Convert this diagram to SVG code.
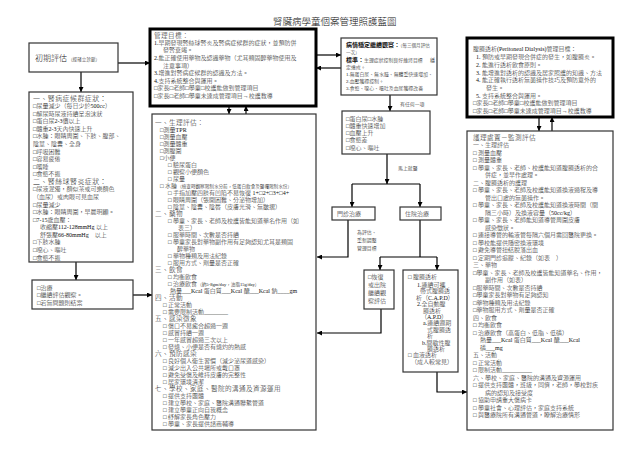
<svg xmlns="http://www.w3.org/2000/svg" width="640" height="452" viewBox="0 0 640 452">
<style>
text{font-family:'Liberation Serif','Noto Sans CJK TC',serif;fill:#111;font-size:6px;font-weight:300}
.h{font-size:6.6px;letter-spacing:0.4px}
.hl{font-size:7px;letter-spacing:0.4px}
.n{font-size:4.6px}
.sm{font-size:4.9px}
.b{font-weight:bold}
.box{fill:#fff;stroke:#333;stroke-width:1.2}
.thick{fill:#fff;stroke:#000;stroke-width:3}
.c{fill:none;stroke:#000;stroke-width:1.2}
</style>
<defs>
<marker id="ar" viewBox="0 0 6 6" refX="6" refY="3" markerWidth="5" markerHeight="5" orient="auto" markerUnits="userSpaceOnUse"><path d="M0,0L6,3L0,6z" fill="#000"/></marker>
</defs>
<rect width="640" height="452" fill="#fff"/>
<text x="273" y="24.5" style="font-size:9.5px">腎臟病學童個案管理照護藍圖</text>

<g id="connectors">
<path class="c" d="M118,63H150" marker-end="url(#ar)"/>
<path class="c" d="M81,72V92" marker-end="url(#ar)"/>
<path class="c" d="M316,55H341" marker-end="url(#ar)"/>
<path class="c" d="M341,68H316" marker-end="url(#ar)"/>
<path class="c" d="M229,106V114" marker-end="url(#ar)"/>
<path class="c" d="M246,114V106" marker-end="url(#ar)"/>
<path class="c" d="M76,262V280" marker-end="url(#ar)"/>
<path class="c" d="M133,295H152" marker-end="url(#ar)"/>
<path class="c" d="M390,95V111" marker-end="url(#ar)"/>
<path class="c" d="M387,154V184" marker-end="url(#ar)"/>
<path class="c" d="M352,184H420"/>
<path class="c" d="M352,184V207" marker-end="url(#ar)"/>
<path class="c" d="M420,184V207" marker-end="url(#ar)"/>
<path class="c" d="M348,220V257H317" marker-end="url(#ar)"/>
<path class="c" d="M420,220V257"/>
<path class="c" d="M380,257H437"/>
<path class="c" d="M380,257V270" marker-end="url(#ar)"/>
<path class="c" d="M437,257V270" marker-end="url(#ar)"/>
<path class="c" d="M381,309V333H317" marker-end="url(#ar)"/>
<path class="c" d="M437,372V392H467" marker-end="url(#ar)"/>
<path class="c" d="M539,117V131" marker-end="url(#ar)"/>
<path class="c" d="M552,131V117" marker-end="url(#ar)"/>
<text x="400" y="106" class="sm">有任何一項</text>
<text x="398" y="170" class="sm">馬上就醫</text>
<text x="357" y="234" class="sm">為評估、</text>
<text x="357" y="242" class="sm">重新調整</text>
<text x="357" y="250" class="sm">管理目標</text>
</g>

<g id="initial">
<rect class="box" x="29" y="43" width="89" height="29"/>
<text x="35" y="61" style="font-size:8px">初期評估<tspan class="n" dx="1">（經確立診斷）</tspan></text>
</g>

<g id="goal">
<rect class="thick" x="150" y="29" width="166" height="77"/>
<text x="154" y="37.5" class="h">管理目標：</text>
<text x="154" y="44.8">1.早期發現腎絲球腎炎及腎病症候群的症狀，並預防併</text>
<text x="163" y="52.4">發腎衰竭。</text>
<text x="154" y="60">2.能正確使用藥物及認識藥物（尤其類固醇藥物使用及</text>
<text x="163" y="67.6">注意事項）</text>
<text x="154" y="75.2">3.增進對腎病症候群的認識及方法。</text>
<text x="154" y="82.8">4.支持系統整合與運用。</text>
<text x="154" y="90.4">□家長□老師□學童□校護能做到管理項目</text>
<text x="154" y="98">□家長□老師□學童未達成管理項目→校護教導</text>
</g>

<g id="stable">
<rect class="box" x="341" y="38" width="96" height="57"/>
<text x="346" y="47.2"><tspan class="b">病情穩定繼續觀察：</tspan><tspan class="n">（每三個月評估</tspan></text>
<text x="346" y="54.4" class="n">一次）</text>
<text x="346" y="61.6"><tspan class="b">標準：</tspan><tspan class="sm">生理症狀控制良好維持目標</tspan></text>
<text x="430" y="61.6" class="sm">穩</text>
<text x="346" y="68.8" class="sm">定達成。</text>
<text x="346" y="76" class="sm">1.無蛋白尿、無水腫、無體重快速增加、</text>
<text x="346" y="83.2" class="sm">2.血壓獲得控制。</text>
<text x="346" y="90.4" class="sm">3.食慾、噁心、嘔吐及血尿獲得改善</text>
</g>

<g id="symptoms">
<rect class="box" x="342" y="111" width="88" height="43"/>
<text x="346" y="120.5">□蛋白尿□水腫</text>
<text x="346" y="127.8">□體重快速增加</text>
<text x="346" y="135.1">□血壓上升</text>
<text x="346" y="142.4">□食慾差</text>
<text x="346" y="149.7">□噁心、嘔吐</text>
</g>

<g id="outpatient">
<rect class="box" x="332" y="207" width="43" height="13"/>
<text x="337" y="215.8">門診治療</text>
</g>

<g id="inpatient">
<rect class="box" x="400" y="207" width="41" height="13"/>
<text x="405" y="215.8">住院治療</text>
</g>

<g id="recover">
<rect class="box" x="364" y="270" width="30" height="39"/>
<text x="368" y="279">□恢復</text>
<text x="368" y="287">或出院</text>
<text x="368" y="295">繼續觀</text>
<text x="368" y="303">察評估</text>
</g>

<g id="dialysis">
<rect class="box" x="403" y="270" width="55" height="102"/>
<text x="408" y="279">□ 腹膜透析</text>
<text x="417" y="287">1.連續可攜</text>
<text x="420" y="293.4">帶式腹膜透</text>
<text x="416" y="299.8">析（C.A.P.D）</text>
<text x="417" y="306.2">2.全自動腹</text>
<text x="423" y="312.6">膜透析</text>
<text x="421" y="319">（A.P.D）</text>
<text x="423" y="325.4">a.連續週期</text>
<text x="427" y="331.8">式腹膜透</text>
<text x="427" y="338.2">析</text>
<text x="422" y="344.6">b.間歇性腹</text>
<text x="427" y="351">膜透析</text>
<text x="408" y="357.4">□ 血液透析</text>
<text x="411" y="363.8">（成人較常見）</text>
</g>

<g id="symptom-list">
<rect class="box" x="29" y="92" width="104" height="170"/>
<text x="33" y="100.5" class="hl">一、腎病症候群症狀：</text>
<text x="33" y="108.1">□尿量減少（每日少於500cc）</text>
<text x="33" y="115.6">□解尿時尿液持續呈泡沫狀</text>
<text x="33" y="123.2">□蛋白尿2-3價以上</text>
<text x="33" y="130.8">□體重2-3天內快速上升</text>
<text x="33" y="138.3">□水腫：眼睛周圍、下肢、腹部、</text>
<text x="33" y="145.9">陰莖、陰囊、全身</text>
<text x="33" y="153.5">□呼吸困難</text>
<text x="33" y="161.1">□容易疲倦</text>
<text x="33" y="168.6">□嗜睡</text>
<text x="33" y="176.2">□食慾不振</text>
<text x="33" y="183.8" class="hl">二、腎絲球腎炎症狀：</text>
<text x="33" y="191.3">□尿液混濁，顏似茶或可樂顏色</text>
<text x="33" y="198.9">（血尿）或肉眼可見血尿</text>
<text x="33" y="206.5">□尿量減少</text>
<text x="33" y="214.1">□水腫：眼睛周圍，早晨明顯。</text>
<text x="33" y="221.6">□7-15歲血壓：</text>
<text x="40" y="229.2">收縮壓112-128mmHg 以上</text>
<text x="40" y="236.8">舒張壓66-80mmHg　以上</text>
<text x="33" y="244.3">□下肢水腫</text>
<text x="33" y="251.9">□噁心、嘔吐</text>
<text x="33" y="259.5">□食慾不振</text>
</g>

<g id="treatment">
<rect class="box" x="32" y="280" width="101" height="29"/>
<text x="37" y="289.5">□治療</text>
<text x="37" y="297">□繼續評估觀察。</text>
<text x="37" y="304.5">□若無問題則結案</text>
</g>

<g id="care">
<rect class="box" x="152" y="114" width="164" height="316"/>
<text x="155" y="124.5" class="h">一、生理評估：</text>
<text x="160" y="131.5">□測量TPR</text>
<text x="160" y="138.5">□測量血壓</text>
<text x="160" y="145.5">□測量體重</text>
<text x="160" y="152.5">□測腹圍</text>
<text x="160" y="159.5">□小便</text>
<text x="168" y="166.5">□ 驗尿蛋白</text>
<text x="168" y="173.5">□ 觀察小便顏色</text>
<text x="168" y="180.5">□ 尿量</text>
<text x="160" y="187.5">□ 水腫<tspan class="n">（檢查時觀察限制水分前，低蛋白飲食及醫囑限制水份）</tspan></text>
<text x="168" y="194.5">□ 手指加壓四肢有凹陷不易恢復 1+□2+□3+□4+</text>
<text x="168" y="201.5">□ 眼睛周圍（張開困難、分泌物增加）</text>
<text x="168" y="208.5">□ 陰莖、陰囊、陰唇（皮膚光滑、無皺摺）</text>
<text x="155" y="215.5" class="h">二、藥物</text>
<text x="168" y="222.5">□ 學童、家長、老師及校護皆能知道藥名作用（如</text>
<text x="178" y="229.5">表三）</text>
<text x="168" y="236.5">□ 服藥時間、次數是否持續</text>
<text x="168" y="243.5">□ 學童家長對藥物副作用有足夠認知尤其是類固</text>
<text x="177" y="250.5">醇藥物</text>
<text x="168" y="257.5">□ 藥物種類及用法紀錄</text>
<text x="168" y="264.5">□ 服用方式、劑量是否正確</text>
<text x="155" y="271.5" class="h">三、飲食</text>
<text x="168" y="278.5">□ 均衡飲食</text>
<text x="168" y="285.5">□ 治療飲食<tspan class="n">（鈉5-8gm/day，油脂15g/day）</tspan></text>
<text x="170" y="292.5">熱量___Kcal 蛋白質___Kcal 醣___Kcal 鈉____gm</text>
<text x="155" y="299.5" class="h">四、活動</text>
<text x="163" y="306.5">□ 正常活動</text>
<text x="163" y="313.5">□ 需要限制活動________</text>
<text x="155" y="320.5" class="h">五、感染徵象</text>
<text x="163" y="327.5">□ 傷口不易癒合超過一週</text>
<text x="163" y="334.5">□ 感冒持續一週</text>
<text x="163" y="341.5">□ 一年感冒超過三次以上</text>
<text x="163" y="348.5">□ 發燒、小便是否有燒灼的熱感</text>
<text x="155" y="355.5" class="h">六、預防感染</text>
<text x="163" y="362.5">□ 良好個人衛生習慣（減少泌尿道感染）</text>
<text x="163" y="369.5">□ 減少出入公共場所或戴口罩</text>
<text x="163" y="376.5">□ 避免受傷及維持皮膚的完整性</text>
<text x="163" y="383.5">□ 居家環境清潔</text>
<text x="155" y="390.5" class="h">七、學校、家庭、醫院的溝通及資源運用</text>
<text x="163" y="397.5">□ 提供支持團體</text>
<text x="163" y="404.5">□ 建立學校、家庭、醫院溝通聯繫管道</text>
<text x="163" y="411.5">□ 建立學童正向自我概念</text>
<text x="163" y="418.5">□ 紓解家長角色壓力</text>
<text x="163" y="425.5">□ 學童、家長提供諮商輔導</text>
</g>

<g id="pd-goal">
<rect class="thick" x="467" y="38" width="146" height="79"/>
<text x="473" y="50.5">腹膜透析(Peritoneal Dialysis)管理目標：</text>
<text x="476" y="59.2">1. 預防或早期發現合併症的發生，如腹膜炎。</text>
<text x="476" y="66.9">2. 能進行透析飲食原則。</text>
<text x="476" y="74.6">3. 能增進對透析的認識及居家照護的知識、方法</text>
<text x="476" y="82.3">4. 能正確執行透析無菌操作技巧及預防意外的</text>
<text x="486" y="90">發生。</text>
<text x="476" y="97.7">5. 支持系統整合與運用。</text>
<text x="473" y="105.4">□家長□老師□學童□校護能做到管理項目</text>
<text x="473" y="113.1">□家長□老師□學童未達成管理項目→校護教導</text>
</g>

<g id="pd-care">
<rect class="box" x="467" y="131" width="146" height="299"/>
<text x="473" y="139.5" class="h">護理處置－監測評估</text>
<text x="473" y="147">一、生理評估</text>
<text x="473" y="154.5">□ 測量血壓</text>
<text x="473" y="162">□ 測量體重</text>
<text x="473" y="169.5">□ 學童、家長、老師、校護能知道腹膜透析的合</text>
<text x="485" y="177">併症，並早作處理。</text>
<text x="473" y="184.5">二、腹膜透析的護理</text>
<text x="473" y="192">□ 學童、家長、老師及校護能知道換液過程及導</text>
<text x="485" y="199.5">管出口處的無菌操作。</text>
<text x="473" y="207">□ 學童、家長、老師及校護能知道換液時間（間</text>
<text x="485" y="214.5">隔三小時）及換液容量（50cc/kg）</text>
<text x="473" y="222">□ 學童、家長、老師能知道導管周圍皮膚</text>
<text x="485" y="229.5">感染徵狀。</text>
<text x="473" y="237">□ 連接導管的輸液管每隔六個月需回醫院更換。</text>
<text x="473" y="244.5">□ 學校能提供隱密換液環境</text>
<text x="473" y="252">□ 避免導管扭結脫落出血</text>
<text x="473" y="259.5">□ 定期門診追蹤、紀錄（如表　）</text>
<text x="473" y="267">三、藥物</text>
<text x="473" y="274.5">□學童、家長、老師及校護皆能知道藥名、作用，</text>
<text x="485" y="282">副作用（如表）</text>
<text x="473" y="289.5">□服藥時間、次數是否持續</text>
<text x="473" y="297">□學童家長對藥物有足夠認知</text>
<text x="473" y="304.5">□藥物種類及用法紀錄</text>
<text x="473" y="312">□藥物服用方式、劑量是否正確</text>
<text x="473" y="319.5">四、飲食</text>
<text x="473" y="327">□ 均衡飲食</text>
<text x="473" y="334.5">□ 治療飲食（高蛋白、低脂、低磷）</text>
<text x="480" y="342">熱量___Kcal 蛋白質___Kcal 醣___Kcal</text>
<text x="480" y="349.5">磷___mg</text>
<text x="473" y="357">五、活動</text>
<text x="473" y="364.5">□ 正常活動</text>
<text x="473" y="372">□ 限制活動__________</text>
<text x="473" y="379.5">六、學校、家庭、醫院的溝通及資源運用</text>
<text x="473" y="387">□ 提供支持團體，班級，同儕，老師，學校對疾</text>
<text x="485" y="394.5">病的認知及接受度</text>
<text x="473" y="402">□ 協助申請重大傷病卡</text>
<text x="473" y="409.5">□ 學童社會、心理評估，家庭支持系統</text>
<text x="473" y="417">□ 與醫療院所有溝通管道，瞭解治療情形</text>
</g>
</svg>
